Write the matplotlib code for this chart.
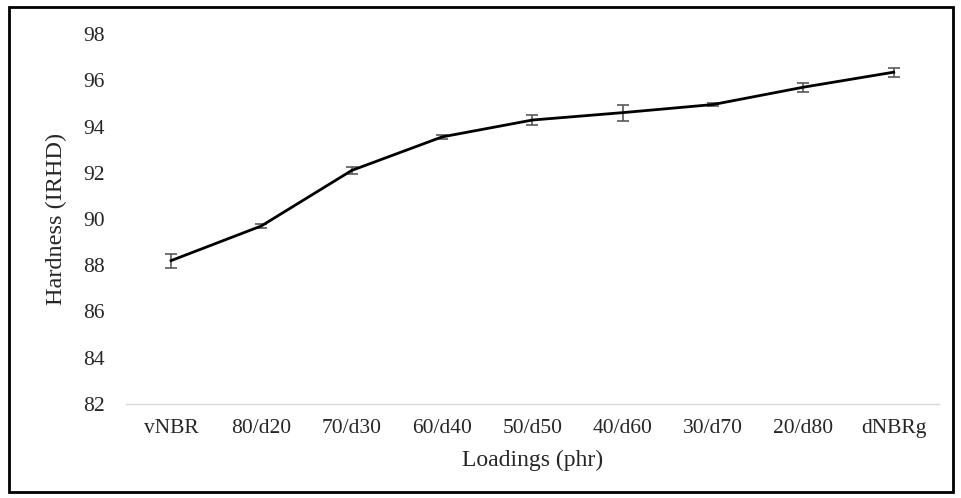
import matplotlib
matplotlib.use("Agg")
import matplotlib.pyplot as plt
from matplotlib.patches import Rectangle

categories = ["vNBR", "80/d20", "70/d30", "60/d40", "50/d50", "40/d60", "30/d70", "20/d80", "dNBRg"]
hardness = [88.2, 89.7, 92.1, 93.55, 94.28, 94.6, 94.95, 95.7, 96.35]
errors = [0.3, 0.1, 0.15, 0.1, 0.2, 0.35, 0.07, 0.2, 0.2]
y_ticks = [82, 84, 86, 88, 90, 92, 94, 96, 98]

plt.rcParams["font.family"] = ["Liberation Serif", "DejaVu Serif"]

fig = plt.figure(figsize=(9.61, 4.98), dpi=100)
ax = fig.add_axes([0.131, 0.1888, 0.846, 0.7429])

x = list(range(len(categories)))
ax.errorbar(x, hardness, yerr=errors, color="black", lw=2.0,
            ecolor="#595959", elinewidth=1.2, capsize=4.3, capthick=1.2, zorder=3)

ax.set_xlim(-0.5, len(categories) - 0.5)
ax.set_ylim(82, 98)
ax.set_yticks(y_ticks)
ax.set_xticks(x)
ax.set_xticklabels(categories)
ax.tick_params(length=0, labelsize=15.5, colors="#262626")
ax.tick_params(axis="x", pad=11)
ax.tick_params(axis="y", pad=15)

for side in ["top", "right", "left"]:
    ax.spines[side].set_visible(False)
ax.spines["bottom"].set_color("#d9d9d9")
ax.spines["bottom"].set_linewidth(1.0)

ax.set_xlabel("Loadings (phr)", fontsize=17, color="#262626", labelpad=8)
ax.set_ylabel("Hardness (IRHD)", fontsize=17.5, color="#262626", labelpad=12)

fig.patches.append(Rectangle((0.009, 0.012), 0.983, 0.974, transform=fig.transFigure,
                             fill=False, edgecolor="black", lw=2))

fig.savefig("out.png", dpi=100)
